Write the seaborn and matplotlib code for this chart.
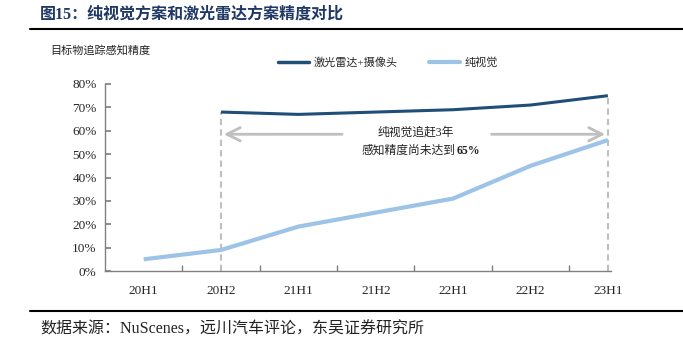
import matplotlib
matplotlib.use("Agg")
import matplotlib.pyplot as plt
import seaborn as sns
import numpy as np
import pandas as pd
from matplotlib.lines import Line2D

categories = ["20H1", "20H2", "21H1", "21H2", "22H1", "22H2", "23H1"]
lidar_camera = [np.nan, 68, 67, 68, 69, 71, 75]
pure_vision = [5, 9, 19, 25, 31, 45, 56]
series_names = ["激光雷达+摄像头", "纯视觉"]
yticks = [0, 10, 20, 30, 40, 50, 60, 70, 80]

sns.set_theme(style="white")
FAM = ["Liberation Serif", "Noto Sans CJK SC"]
plt.rcParams["font.family"] = FAM

df = pd.DataFrame({
    "cat": categories * 2,
    "x": list(range(len(categories))) * 2,
    "val": lidar_camera + pure_vision,
    "series": [series_names[0]] * len(categories) + [series_names[1]] * len(categories),
})

fig = plt.figure(figsize=(6.83, 3.45), dpi=100)
ax = fig.add_axes([105 / 683, 1 - 271 / 345, (611 - 105) / 683, (271 - 84) / 345])

dark = "#1F4E79"
light = "#9DC3E6"
sns.lineplot(data=df[df.series == series_names[1]], x="x", y="val", ax=ax,
             color=light, linewidth=3.0, legend=False, solid_capstyle="butt")
sns.lineplot(data=df[df.series == series_names[0]].dropna(), x="x", y="val", ax=ax,
             color=dark, linewidth=2.2, legend=False, solid_capstyle="butt")

ax.set_xlim(-0.5, 6.04)
ax.set_ylim(0, 80)
ax.set_xlabel("")
ax.set_ylabel("")

# dashed guide lines
i1 = 1
i2 = 6
ax.plot([i1, i1], [0, lidar_camera[i1]], color="#BFBFBF", linestyle=(0, (3, 2)), linewidth=1.5, zorder=1)
ax.plot([i2, i2], [0, lidar_camera[i2]], color="#BFBFBF", linestyle=(0, (3, 2)), linewidth=1.5, zorder=1)

# arrows
ay = 58.5
ax.annotate("", xy=(i1, ay), xytext=(2.6, ay),
            arrowprops=dict(arrowstyle="->,head_length=0.8,head_width=0.4", color="#BFBFBF", lw=2))
ax.annotate("", xy=(i2, ay), xytext=(4.46, ay),
            arrowprops=dict(arrowstyle="->,head_length=0.8,head_width=0.4", color="#BFBFBF", lw=2))
ax.text(3.52, 59.3, "纯视觉追赶3年", ha="center", va="center", fontsize=8.5, color="#222222")
ax.text(4.03, 51.5, "感知精度尚未达到", ha="right", va="center", fontsize=8.5, color="#222222")
ax.text(4.04, 51.5, "65%", ha="left", va="center", fontsize=8.5, color="#222222", fontweight="bold")

# ticks
ax.set_yticks(yticks)
ax.set_yticklabels([f"{v}%" for v in yticks], fontsize=9.5)
ax.set_xticks(range(len(categories)))
ax.set_xticklabels(categories, fontsize=9.5)
ax.set_xticks(np.arange(0.5, 6, 1), minor=True)
ax.tick_params(axis="x", which="major", length=0, pad=10)
ax.tick_params(axis="x", which="minor", direction="in", length=4, color="#808080", bottom=True)
ax.tick_params(axis="y", which="major", direction="in", length=4, color="#808080", left=True, pad=6)

for s in ["top", "right"]:
    ax.spines[s].set_visible(False)
for s in ["left", "bottom"]:
    ax.spines[s].set_color("#808080")
    ax.spines[s].set_linewidth(1)
ax.grid(False)

# title and decorations
fig.text(40 / 683, 1 - 15 / 345, "图15：纯视觉方案和激光雷达方案精度对比", fontsize=11.5,
         fontweight="bold", color="#1F3864", va="center", ha="left")
fig.add_artist(plt.Line2D([30 / 683, 1.0], [1 - 29 / 345] * 2, color="black", linewidth=1.5))
fig.add_artist(plt.Line2D([30 / 683, 1.0], [1 - 311 / 345] * 2, color="black", linewidth=1.5))
fig.text(40 / 683, 1 - 330 / 345, "数据来源：NuScenes，远川汽车评论，东吴证券研究所", fontsize=11.5,
         color="#222222", va="center", ha="left")
fig.text(50 / 683, 1 - 50 / 345, "目标物追踪感知精度", fontsize=8, color="#222222", va="center", ha="left")

# legend
handles = [Line2D([0], [0], color=dark, lw=2.5), Line2D([0], [0], color=light, lw=3)]
fig.legend(handles, series_names, loc="center", bbox_to_anchor=(388 / 683, 1 - 62 / 345),
           ncol=2, frameon=False, fontsize=8, handlelength=2.8, columnspacing=2.8, handletextpad=0.4)

fig.savefig("out.png", dpi=100)
